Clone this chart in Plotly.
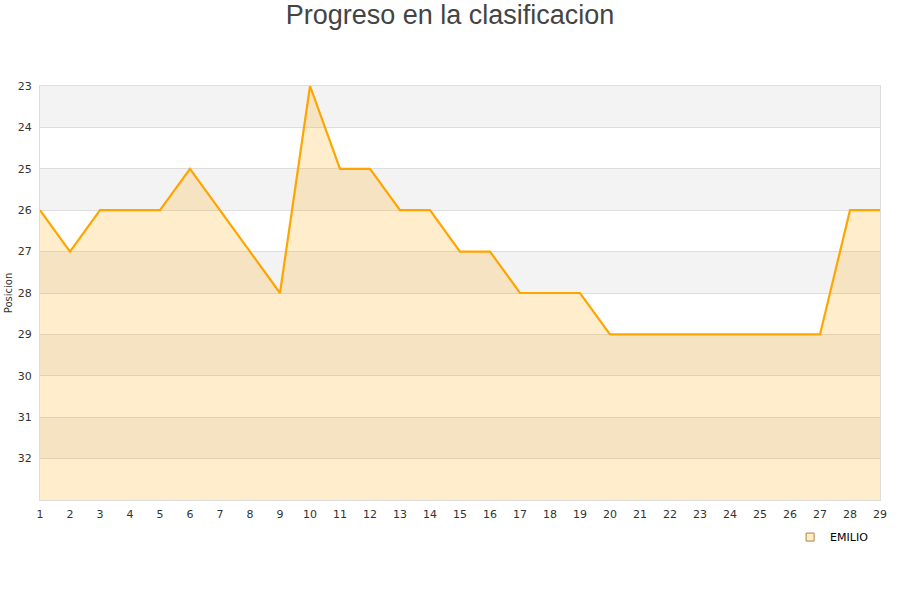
import plotly.graph_objects as go

jornadas = list(range(1, 30))
posicion = [26, 27, 26, 26, 26, 25, 26, 27, 28, 23, 25, 25, 26, 26, 27, 27, 28, 28, 28,
            29, 29, 29, 29, 29, 29, 29, 29, 26, 26]
y_ticks = list(range(23, 33))
y_min, y_max = 23, 33

fig = go.Figure()

# alternating horizontal bands
for i, lo in enumerate(range(y_min, y_max)):
    if i % 2 == 0:
        fig.add_shape(type="rect", xref="paper", yref="y", x0=0, x1=1, y0=lo, y1=lo + 1,
                      fillcolor="#f3f3f3", line_width=0, layer="below")

# baseline for fill
fig.add_trace(go.Scatter(x=jornadas, y=[y_max] * len(jornadas), mode="lines",
                         line=dict(width=0), showlegend=False, hoverinfo="skip"))
fig.add_trace(go.Scatter(x=jornadas, y=posicion, mode="lines", name="EMILIO",
                         line=dict(color="#FFA500", width=2.2),
                         fill="tonexty", fillcolor="rgba(255,165,0,0.2)",
                         showlegend=False))
# legend entry
fig.add_trace(go.Scatter(x=[None], y=[None], mode="markers", name="EMILIO",
                         marker=dict(symbol="square", size=8, color="#FFEDCC",
                                     line=dict(color="#B08040", width=1))))

fig.update_layout(
    width=900, height=600,
    margin=dict(l=40, r=20, t=86, b=100, autoexpand=False),
    paper_bgcolor="white", plot_bgcolor="white",
    title=dict(text="Progreso en la clasificacion", x=0.5, xanchor="center", y=0.975, yanchor="middle",
               font=dict(family="Liberation Sans, Arial", size=27, color="#444444")),
    font=dict(family="DejaVu Sans, Verdana", size=11, color="#333333"),
    legend=dict(x=0.893, y=-0.0545, xanchor="left", yanchor="top", orientation="h",
                font=dict(family="DejaVu Sans", size=11, color="#000000"), bgcolor="rgba(0,0,0,0)"),
    showlegend=True,
)
fig.update_xaxes(range=[1, 29], tickmode="array", tickvals=jornadas, showgrid=False,
                 showline=True, linecolor="#dddddd", mirror=True, ticks="", zeroline=False,
                 automargin=False, ticklabelstandoff=4, tickfont=dict(size=11, color="#333333"))
fig.update_yaxes(range=[y_max, y_min], tickmode="array", tickvals=y_ticks, showgrid=True,
                 gridcolor="#dddddd", showline=True, linecolor="#dddddd", mirror=True,
                 ticks="", zeroline=False, automargin=False, ticklabelstandoff=5,
                 tickfont=dict(size=11, color="#333333"),
                 title=dict(text="Posicion", font=dict(size=10, color="#333333"), standoff=3))

fig.write_html("out.html", config={"displayModeBar": False},
               post_script="document.body.style.margin='0';")
